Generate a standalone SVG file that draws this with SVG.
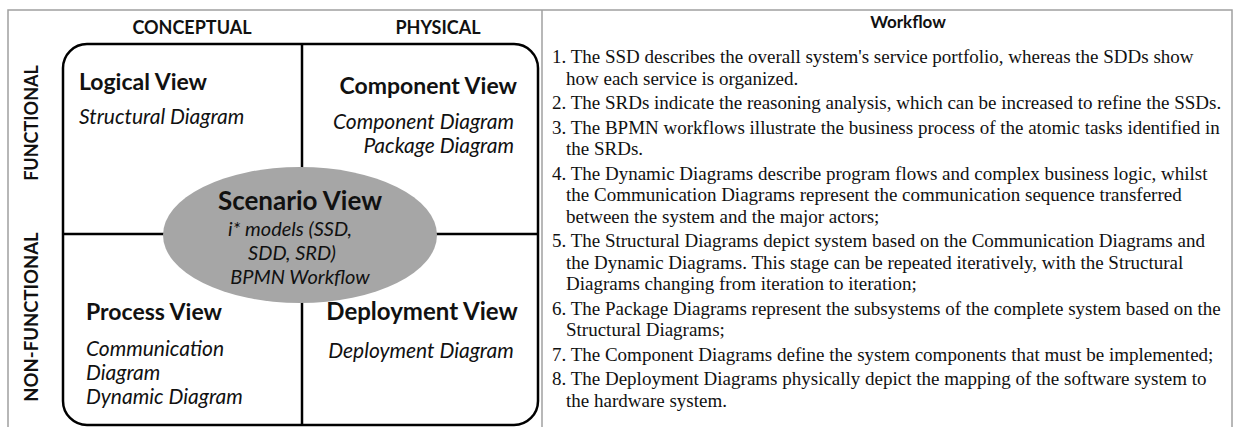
<svg xmlns="http://www.w3.org/2000/svg" width="1235" height="427" viewBox="0 0 1235 427">
<style>
.frame{fill:none;stroke:#a0a0a0;stroke-width:1.5}
.line{stroke:#000;stroke-width:2.5;fill:none}
.hdr{font-family:Lato,"Open Sans",sans-serif;font-weight:bold;font-size:18px;fill:#111}
.title{font-family:Lato,"Open Sans",sans-serif;font-weight:bold;font-size:23px;fill:#111}
.sub{font-family:Lato,"Open Sans",sans-serif;font-style:italic;font-size:21px;fill:#111}
.esub{font-family:Lato,"Open Sans",sans-serif;font-style:italic;font-size:20px;fill:#111}
.wf{font-family:"Liberation Serif",serif;font-size:19px;fill:#111}
</style>
<rect class="frame" x="8" y="10" width="1224" height="430"/>
<line class="frame" x1="542" y1="10" x2="542" y2="427"/>
<g id="axes">
<text class="hdr" x="192" y="34" text-anchor="middle">CONCEPTUAL</text>
<text class="hdr" x="438" y="34" text-anchor="middle">PHYSICAL</text>
<text class="hdr" transform="translate(38,123) rotate(-90)" text-anchor="middle">FUNCTIONAL</text>
<text class="hdr" transform="translate(38,317) rotate(-90)" text-anchor="middle" style="font-size:18.5px">NON-FUNCTIONAL</text>
</g>
<g id="connectors">
<rect class="line" x="63" y="44" width="475" height="381" rx="24" ry="24"/>
<line class="line" x1="302" y1="44" x2="302" y2="170"/>
<line class="line" x1="302" y1="300" x2="302" y2="425"/>
<line class="line" x1="63" y1="234" x2="170" y2="234"/>
<line class="line" x1="430" y1="234" x2="538" y2="234"/>
</g>
<g id="logical-view">
<text class="title" x="79" y="90">Logical View</text>
<text class="sub" x="79" y="124">Structural Diagram</text>
</g>
<g id="component-view">
<text class="title" x="517" y="94" text-anchor="end">Component View</text>
<text class="sub" x="514" y="129" text-anchor="end">Component Diagram</text>
<text class="sub" x="514" y="153" text-anchor="end">Package Diagram</text>
</g>
<g id="scenario-view">
<ellipse cx="300" cy="235" rx="137" ry="68" fill="#a6a6a6"/>
<text class="title" x="300" y="210" text-anchor="middle" style="font-size:26px">Scenario View</text>
<text class="esub" x="290" y="236" text-anchor="middle">i* models (SSD,</text>
<text class="esub" x="292" y="260" text-anchor="middle">SDD, SRD)</text>
<text class="esub" x="300" y="284" text-anchor="middle">BPMN Workflow</text>
</g>
<g id="process-view">
<text class="title" x="86" y="320">Process View</text>
<text class="sub" x="86" y="356">Communication</text>
<text class="sub" x="86" y="380">Diagram</text>
<text class="sub" x="86" y="404">Dynamic Diagram</text>
</g>
<g id="deployment-view">
<text class="title" x="422" y="320" text-anchor="middle" style="font-size:24px">Deployment View</text>
<text class="sub" x="421" y="358" text-anchor="middle">Deployment Diagram</text>
</g>
<g id="workflow">
<text class="hdr" x="908" y="28" text-anchor="middle" style="font-size:17px">Workflow</text>
<text class="wf" x="552" y="63">1. The SSD describes the overall system's service portfolio, whereas the SDDs show</text>
<text class="wf" x="566" y="84.5">how each service is organized.</text>
<text class="wf" x="552" y="109">2. The SRDs indicate the reasoning analysis, which can be increased to refine the SSDs.</text>
<text class="wf" x="552" y="133.5">3. The BPMN workflows illustrate the business process of the atomic tasks identified in</text>
<text class="wf" x="566" y="155">the SRDs.</text>
<text class="wf" x="552" y="179.5">4. The Dynamic Diagrams describe program flows and complex business logic, whilst</text>
<text class="wf" x="566" y="201">the Communication Diagrams represent the communication sequence transferred</text>
<text class="wf" x="566" y="222.5">between the system and the major actors;</text>
<text class="wf" x="552" y="247">5. The Structural Diagrams depict system based on the Communication Diagrams and</text>
<text class="wf" x="566" y="268.5">the Dynamic Diagrams. This stage can be repeated iteratively, with the Structural</text>
<text class="wf" x="566" y="290">Diagrams changing from iteration to iteration;</text>
<text class="wf" x="552" y="314.5">6. The Package Diagrams represent the subsystems of the complete system based on the</text>
<text class="wf" x="566" y="336">Structural Diagrams;</text>
<text class="wf" x="552" y="360.5">7. The Component Diagrams define the system components that must be implemented;</text>
<text class="wf" x="552" y="385">8. The Deployment Diagrams physically depict the mapping of the software system to</text>
<text class="wf" x="566" y="406.5">the hardware system.</text>
</g>
</svg>
